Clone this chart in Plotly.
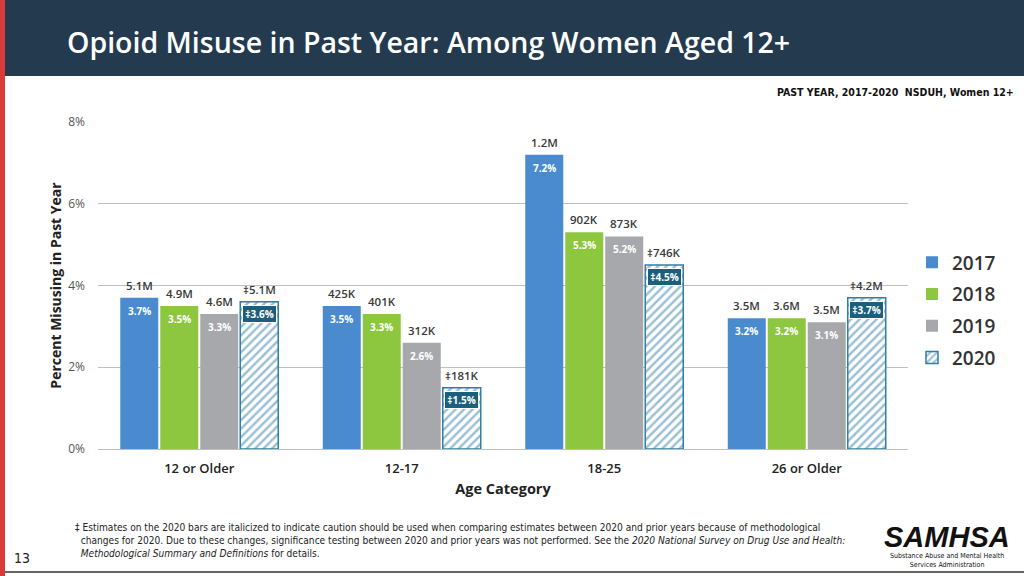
import plotly.graph_objects as go

categories = ["12 or Older", "12-17", "18-25", "26 or Older"]
years = ["2017", "2018", "2019", "2020"]
pct_2017 = [3.7, 3.5, 7.2, 3.2]
pct_2018 = [3.5, 3.3, 5.3, 3.2]
pct_2019 = [3.3, 2.6, 5.2, 3.1]
pct_2020 = [3.6, 1.5, 4.5, 3.7]
cnt_2017 = ["5.1M", "425K", "1.2M", "3.5M"]
cnt_2018 = ["4.9M", "401K", "902K", "3.6M"]
cnt_2019 = ["4.6M", "312K", "873K", "3.5M"]
cnt_2020 = ["‡5.1M", "‡181K", "‡746K", "‡4.2M"]
y_ticks = [0, 2, 4, 6, 8]

pcts = [pct_2017, pct_2018, pct_2019, pct_2020]
cnts = [cnt_2017, cnt_2018, cnt_2019, cnt_2020]
colors = ["#4a8bd0", "#8dc63f", "#a6a8ab", "#2f7ea6"]

W, H = 1024, 576
L, R, T, B = 98, 908, 122, 449


def px(x):
    return (x - L) / (R - L)


def py(y):
    return (B - y) / (B - T)


FONT = "Open Sans"
COND = "DejaVu Sans Condensed, Liberation Sans"
fig = go.Figure()
for j in range(4):
    if j < 3:
        marker = dict(color=colors[j], line=dict(width=0))
    else:
        marker = dict(color="white", line=dict(color=colors[3], width=1.5),
                      pattern=dict(shape="/", fgcolor=colors[3], bgcolor="white",
                                   size=6, solidity=0.4))
    fig.add_trace(go.Bar(x=categories, y=pcts[j], name=years[j], marker=marker,
                         legendgroup=years[j], hoverinfo="skip"))

bargap, bargroupgap = 0.21, 0.05
slot = (1 - bargap) / 4
annotations = []
for j in range(4):
    for i in range(4):
        xc = i - (1 - bargap) / 2 + slot * (j + 0.5)
        v = pcts[j][i]
        annotations.append(dict(x=xc, y=v, xref="x", yref="y", text=cnts[j][i],
                                showarrow=False, yanchor="bottom", yshift=3,
                                font=dict(family=FONT, size=11.5, color="#3a3a3a", weight=600)))
        txt = f"{v:.1f}%" if j < 3 else f"‡{v:.1f}%"
        if j < 3:
            annotations.append(dict(x=xc, y=v, xref="x", yref="y", text=f"<b>{txt}</b>",
                                    showarrow=False, yanchor="top", yshift=-4,
                                    font=dict(family=FONT, size=10, color="white")))
        else:
            annotations.append(dict(x=xc, y=v, xref="x", yref="y", text=f"<b>{txt}</b>",
                                    showarrow=False, yanchor="top", yshift=-3,
                                    bgcolor="#1b5f7c", bordercolor="white", borderwidth=1,
                                    borderpad=1, width=31,
                                    font=dict(family=FONT, size=10, color="white")))

# Title and page text
annotations += [
    dict(x=px(65), y=py(42), xref="paper", yref="paper", xanchor="left", yanchor="middle",
         text="Opioid Misuse in Past Year: Among Women Aged 12+", showarrow=False,
         font=dict(family=FONT, size=28.5, color="white", weight=600)),
    dict(x=px(1016), y=py(92), xref="paper", yref="paper", xanchor="right", yanchor="middle",
         text="<b>PAST YEAR, 2017-2020  NSDUH, Women 12+</b>", showarrow=False,
         font=dict(family=COND, size=10.5, color="#111111")),
    dict(x=px(73), y=py(540), xref="paper", yref="paper", xanchor="left", yanchor="middle",
         align="left", showarrow=False,
         text=("‡ Estimates on the 2020 bars are italicized to indicate caution should be used when comparing estimates between 2020 and prior years because of methodological<br>"
               "  changes for 2020. Due to these changes, significance testing between 2020 and prior years was not performed. See the <i>2020 National Survey on Drug Use and Health:</i><br>"
               "  <i>Methodological Summary and Definitions</i> for details."),
         font=dict(family=COND, size=10.1, color="#222222")),
    dict(x=px(12), y=py(558), xref="paper", yref="paper", xanchor="left", yanchor="middle",
         text="13", showarrow=False, font=dict(family=COND, size=14, color="#222222")),
    dict(x=px(947), y=py(537), xref="paper", yref="paper", xanchor="center", yanchor="middle",
         text="<b><i>SAMHSA</i></b>", showarrow=False,
         font=dict(family="Liberation Sans", size=29, color="#111111")),
    dict(x=px(947), y=py(560), xref="paper", yref="paper", xanchor="center", yanchor="middle",
         text="Substance Abuse and Mental Health<br>Services Administration", showarrow=False,
         font=dict(family=COND, size=7, color="#111111")),
]

shapes = [
    dict(type="rect", xref="paper", yref="paper", x0=px(0), x1=px(W), y0=py(0), y1=py(76),
         fillcolor="#233a4f", line=dict(width=0), layer="below"),
    dict(type="rect", xref="paper", yref="paper", x0=px(0), x1=px(5), y0=py(0), y1=py(H),
         fillcolor="#d93a3a", line=dict(width=0), layer="below"),
    dict(type="line", xref="paper", yref="paper", x0=px(5), x1=px(W), y0=py(572), y1=py(572),
         line=dict(color="#666666", width=2)),
]

fig.update_layout(
    width=W, height=H, autosize=False,
    margin=dict(l=L, r=W - R, t=T, b=H - B, pad=0),
    paper_bgcolor="white", plot_bgcolor="white",
    barmode="group", bargap=bargap, bargroupgap=bargroupgap,
    font=dict(family=FONT, color="#333333"),
    xaxis=dict(type="category", categoryorder="array", categoryarray=categories,
               showgrid=False, showline=True, linecolor="#bfbfbf", linewidth=1,
               tickfont=dict(family=FONT, size=13, color="#222222", weight=600), ticks="",
               ticklabelstandoff=7,
               title=dict(text="<b>Age Category</b>", font=dict(family=FONT, size=14.5, color="#222222"),
                          standoff=8)),
    yaxis=dict(range=[0, 8], tickvals=y_ticks, ticktext=[f"{t}%" for t in y_ticks],
               showgrid=True, gridcolor="#bfbfbf", gridwidth=1, zeroline=False,
               tickfont=dict(family=FONT, size=12, color="#555555"), ticks="", ticklen=0,
               ticklabelstandoff=12,
               title=dict(text="<b>Percent Misusing in Past Year</b>",
                          font=dict(family=FONT, size=14, color="#222222"), standoff=3)),
    legend=dict(x=px(912), y=py(310), xanchor="left", yanchor="middle",
                font=dict(family=FONT, size=19, color="#333333", weight=600),
                tracegroupgap=4, traceorder="grouped", itemwidth=30, bgcolor="rgba(0,0,0,0)"),
    annotations=annotations, shapes=shapes, showlegend=True,
)

fig.write_html("out.html", config={"displayModeBar": False},
               post_script="document.body.style.margin='0';document.body.style.overflow='hidden';")
